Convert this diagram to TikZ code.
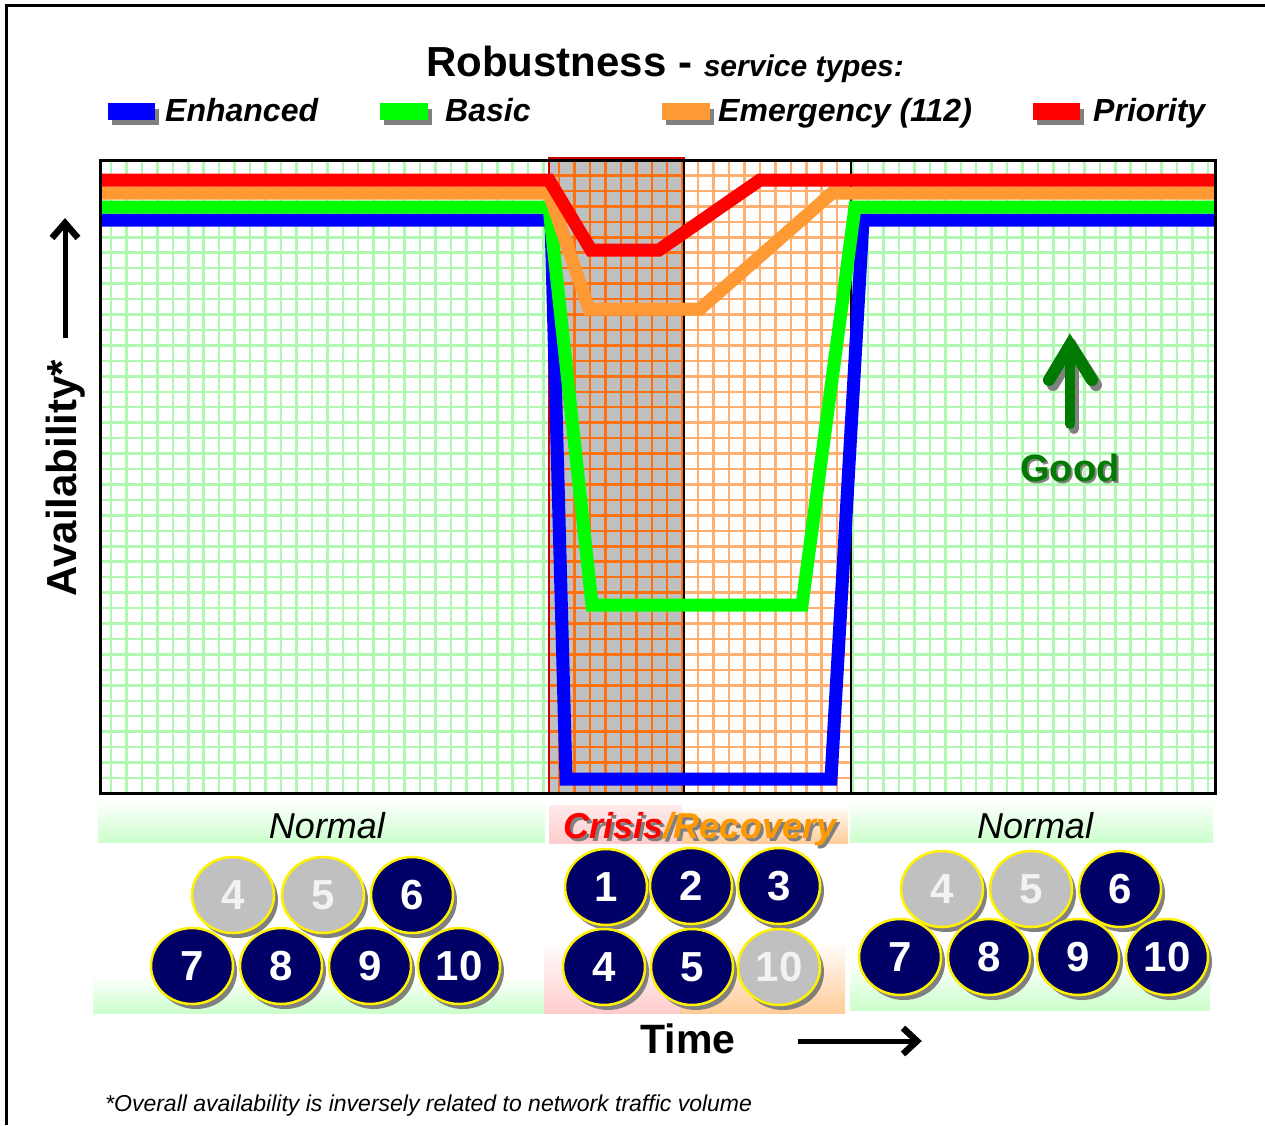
\documentclass[tikz,border=0pt]{standalone}
\usepackage{fontspec}
\setmainfont{Liberation Sans}
\usepackage{xcolor}
\usetikzlibrary{shapes.geometric,shadows}
\definecolor{gridgreen}{HTML}{B0F8B0}
\definecolor{gridorange}{HTML}{FF7010}
\definecolor{gridpeach}{HTML}{FFB070}
\definecolor{crisisgray}{HTML}{C0C0C0}
\definecolor{navyball}{HTML}{000066}
\definecolor{offgray}{HTML}{C0C0C0}
\definecolor{offwhite}{HTML}{F2F2F2}
\definecolor{shadowgray}{HTML}{808080}
\definecolor{linegreen}{HTML}{00FF00}
\definecolor{lineorange}{HTML}{FF9933}
\definecolor{goodgreen}{HTML}{007A00}
\definecolor{bandgreen}{HTML}{CCFFCC}
\definecolor{bandpink}{HTML}{FFCCCC}
\definecolor{bandpeach}{HTML}{FFCC99}
\definecolor{recovery}{HTML}{FF9900}
\newcommand{\shadowtext}[3]{\makebox[0pt][l]{\hspace{#1}\raisebox{-#1}{\textcolor{shadowgray}{#2}}}#3}

\begin{document}
\begin{tikzpicture}[x=1pt,y=-1pt,
  every node/.style={inner sep=0pt},
  ball/.style={ellipse,minimum width=82pt,minimum height=76pt,draw=yellow,line width=2.5pt,
    fill=navyball,text=white,font=\fontsize{42}{42}\selectfont\bfseries,
    drop shadow={shadow xshift=4pt,shadow yshift=-5pt,fill=shadowgray,opacity=1}},
  offball/.style={ball,fill=offgray,text=offwhite},
  trace/.style={line width=13pt,line cap=butt,line join=miter},
  legendtxt/.style={anchor=base west,font=\fontsize{32}{32}\selectfont\bfseries\itshape},
  phasetxt/.style={anchor=base,font=\fontsize{36}{36}\selectfont\itshape},
  bigarrow/.style={line width=5pt,line join=miter},
  bighead/.style={line width=6.5pt,line join=miter},
  goodarrow/.style={line width=10pt,line join=miter,line cap=round},
  goodhead/.style={line width=12pt,line join=miter,line cap=round}]
\useasboundingbox (0,0) rectangle (1265,1125);
\fill[white] (0,0) rectangle (1265,1125);
\draw[line width=3pt] (6,1125) -- (6,5) -- (1265,5);

\node[anchor=base] (title) at (665,76) {{\fontsize{42}{42}\selectfont\bfseries Robustness - }{\fontsize{30}{30}\selectfont\bfseries\itshape service types:}};

\fill[shadowgray] (112,109) rectangle (159,125);
\fill[blue] (108,103) rectangle (155,120);
\node[legendtxt] (enhanced) at (165,121) {Enhanced};
\fill[shadowgray] (384,109) rectangle (432,125);
\fill[linegreen] (380,103) rectangle (428,120);
\node[legendtxt] (basic) at (445,121) {Basic};
\fill[shadowgray] (666,109) rectangle (714,125);
\fill[lineorange] (662,103) rectangle (710,120);
\node[legendtxt] (emergency) at (718,121) {Emergency (112)};
\fill[shadowgray] (1037,109) rectangle (1084,125);
\fill[red] (1033,103) rectangle (1080,120);
\node[legendtxt] (priority) at (1093,121) {Priority};

\fill[white] (100,160) rectangle (1215,793);
\foreach \i in {0,...,71}
  \draw[gridgreen,line width=2.5pt] ({111+\i*15.45},160) -- ({111+\i*15.45},793);
\foreach \i in {1,...,40}
  \draw[gridgreen,line width=2.5pt] (100,{160+\i*15.45}) -- (1215,{160+\i*15.45});
\fill[crisisgray] (549,158) rectangle (684,793);
\fill[white] (684,160) rectangle (851,793);
\begin{scope}
  \clip (549,158) rectangle (684,793);
  \foreach \i in {28,...,37}
    \draw[gridorange,line width=2.5pt] ({111+\i*15.45},158) -- ({111+\i*15.45},793);
  \foreach \i in {0,...,40}
    \draw[gridorange,line width=2.5pt] (549,{160+\i*15.45}) -- (684,{160+\i*15.45});
\end{scope}
\begin{scope}
  \clip (684,160) rectangle (851,793);
  \foreach \i in {36,...,48}
    \draw[gridpeach,line width=2.5pt] ({111+\i*15.45},160) -- ({111+\i*15.45},793);
  \foreach \i in {0,...,40}
    \draw[gridpeach,line width=2.5pt] (684,{160+\i*15.45}) -- (851,{160+\i*15.45});
\end{scope}
\draw[red!80!black,line width=2pt] (549,158) rectangle (684,793);
\draw[line width=2.5pt] (684,160) -- (684,793);
\draw[line width=2.5pt] (851,160) -- (851,793);

\draw[trace,blue] (102,220) -- (551,220) -- (566,779) -- (831,779) -- (863,220) -- (1215,220);
\draw[trace,linegreen] (102,207) -- (549,207) -- (592,605) -- (802,605) -- (855,207) -- (1215,207);
\draw[trace,lineorange] (102,193) -- (549,193) -- (589,309) -- (700,309) -- (832,193) -- (1215,193);
\draw[trace,red] (102,180) -- (549,180) -- (591,250) -- (659,250) -- (760,180) -- (1215,180);
\draw[line width=3pt] (100,160) rectangle (1215,793);

\draw[goodarrow,shadowgray] (1074,429) -- (1074,352);
\draw[goodhead,shadowgray] (1053,385) -- (1074,350) -- (1096,385);
\draw[goodarrow,goodgreen] (1070,424) -- (1070,347);
\draw[goodhead,goodgreen] (1049,380) -- (1070,345) -- (1092,380);
\node[anchor=base,text=goodgreen,font=\fontsize{38}{38}\selectfont\bfseries] (good) at (1070,481) {\shadowtext{2pt}{Good}{Good}};

\node[rotate=90,anchor=base,font=\fontsize{42}{42}\selectfont\bfseries] (avail) at (76,478) {Availability*};
\draw[bigarrow] (65,338) -- (65,226);
\draw[bighead] (52,238) -- (65,223) -- (78,238);

\shade[top color=white,bottom color=bandgreen] (98,800) rectangle (545,842);
\shade[top color=white,bottom color=bandgreen] (93,975) rectangle (545,1013);
\shade[top color=white,bottom color=bandgreen] (850,800) rectangle (1213,842);
\shade[top color=white,bottom color=bandgreen] (850,960) rectangle (1210,1010);
\shade[top color=bandpink!40,bottom color=bandpink] (549,805) rectangle (682,843);
\shade[top color=white,bottom color=bandpeach] (682,805) rectangle (848,843);
\shade[top color=white,bottom color=bandpink] (544,940) rectangle (680,1013);
\shade[top color=white,bottom color=bandpeach] (680,940) rectangle (845,1013);

\node[phasetxt] (normleft) at (327,838) {Normal};
\node[phasetxt] (normright) at (1035,838) {Normal};
\node[phasetxt,font=\fontsize{36}{36}\selectfont\bfseries\itshape] (crisis) at (700,838) {\shadowtext{3pt}{Crisis/Recovery}{\textcolor{red}{Crisis}\textcolor{recovery}{/Recovery}}};

\node[offball] (la4) at (233,895) {4};
\node[offball] (la5) at (323,895) {5};
\node[ball] (la6) at (412,895) {6};
\node[ball] (la7) at (192,966) {7};
\node[ball] (la8) at (281,966) {8};
\node[ball] (la9) at (370,966) {9};
\node[ball] (la10) at (459,966) {10};

\node[ball] (cr1) at (606,887) {1};
\node[ball] (cr2) at (691,886) {2};
\node[ball] (cr3) at (779,886) {3};
\node[ball] (cr4) at (604,967) {4};
\node[ball] (cr5) at (692,967) {5};
\node[offball] (cr10) at (779,967) {10};

\node[offball] (ra4) at (942,889) {4};
\node[offball] (ra5) at (1031,889) {5};
\node[ball] (ra6) at (1120,889) {6};
\node[ball] (ra7) at (900,957) {7};
\node[ball] (ra8) at (989,957) {8};
\node[ball] (ra9) at (1078,957) {9};
\node[ball] (ra10) at (1167,957) {10};

\node[anchor=base,font=\fontsize{41}{41}\selectfont\bfseries] (time) at (688,1053) {Time};
\draw[bigarrow] (798,1041) -- (913,1041);
\draw[bighead] (903,1028) -- (917,1041) -- (903,1054);

\node[anchor=base west,font=\fontsize{23}{23}\selectfont\itshape] (note) at (105,1111) {*Overall availability is inversely related to network traffic volume};
\end{tikzpicture}
\end{document}
